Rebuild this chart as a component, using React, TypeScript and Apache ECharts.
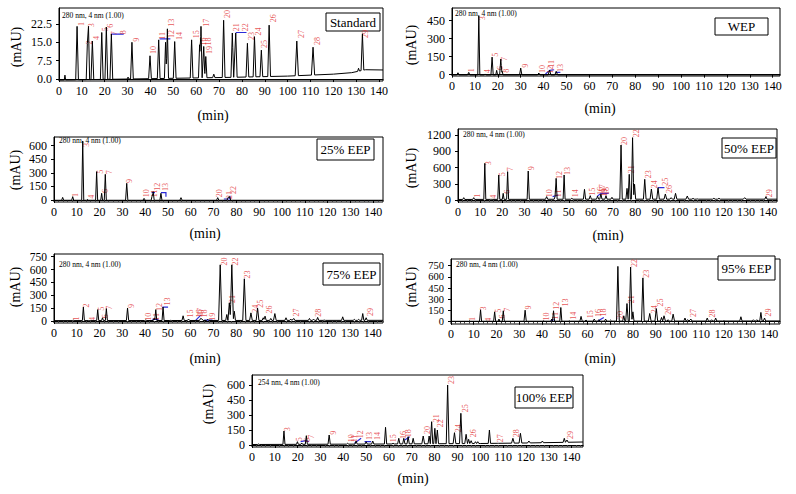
import React, { useEffect, useRef } from "react";
import * as echarts from "echarts";

type Peak = [number, number, number]; // retention time (min), apex (mAU), half width (min)
type Lbl = [number, number, string];
type Pt = [number, number];

const xTicks = [0, 10, 20, 30, 40, 50, 60, 70, 80, 90, 100, 110, 120, 130, 140];

// ---------- Standard ----------
const stdYTicks = [0, 7.5, 15, 22.5];
const stdBase: Pt[] = [[0, -0.4], [30, 0], [76, 0.7], [100, 1.2], [120, 2.0], [128, 2.6], [131, 3.2], [134, 3.8], [141.7, 3.7]];
const stdPeaks: Peak[] = [
  [2.6, 1.6, 0.3], [7.9, 21.5, 0.6], [12.4, 14.5, 0.5], [12.9, 21.5, 0.5], [14.6, 15.5, 0.6], [18.7, 19, 0.6],
  [20.7, 21.2, 0.6], [22.9, 18.4, 0.6], [30.2, 0.8, 0.4], [31.9, 15, 0.6], [39.8, 9.5, 0.6], [43.6, 16, 0.6],
  [46.6, 15, 0.5], [47.4, 20.5, 0.5], [50.6, 15.3, 0.6], [58.0, 16, 0.6], [61.5, 14, 0.5], [62.1, 21.5, 0.5],
  [63.3, 13.3, 0.5], [64.2, 9.2, 0.5], [67.7, 2, 0.5], [72, 24, 0.6], [75.8, 18.8, 0.6], [77.3, 18.8, 0.6],
  [82.4, 14.6, 0.6], [85.5, 17.3, 0.6], [88.5, 11.8, 0.6], [91.9, 22, 0.6], [104, 15.5, 0.7], [111.1, 13, 0.7],
  [131, 4.4, 0.4], [132.7, 18.5, 0.6],
];
const stdLabels: Lbl[] = [
  [9.8, 22.5, "1"], [13.4, 14.9, "2"], [14.3, 22.0, "3"], [16.6, 16.8, "4"], [20.4, 20.3, "5"], [22.5, 21.8, "6"],
  [24.1, 18.7, "7"], [28.3, 19.1, "8"], [33.8, 16.0, "9"], [41.4, 11.9, "10"], [45.1, 17.6, "11"], [49.1, 18.4, "12"],
  [49.1, 23.0, "13"], [52.5, 17.6, "14"], [60.1, 18.3, "15"], [63.0, 15.3, "16"], [64.7, 23.0, "17"], [65.6, 15.3, "18"],
  [65.9, 11.9, "19"], [73.9, 26.6, "20"], [77.6, 21.1, "21"], [81.5, 21.1, "22"], [84.1, 17.6, "23"], [87.1, 19.4, "24"],
  [90.0, 14.3, "25"], [93.6, 24.8, "26"], [106.0, 18.4, "27"], [113.0, 15.5, "28"], [134.2, 18.4, "29"],
];
const stdBlue: Pt[][] = [[[22.9, 18.3], [28.3, 18.3]], [[44, 16.4], [48.7, 16.4]], [[77.3, 19], [82, 19]]];

// ---------- WEP ----------
const wepYTicks = [0, 150, 300, 450];
const wepBase: Pt[] = [[0, -2], [143.2, -2]];
const wepPeaks: Peak[] = [
  [2.6, 16, 0.5], [7.3, 19, 0.5], [11.7, 489, 0.45], [14.5, 6, 0.4], [17.5, 146, 0.5], [19.5, 36, 0.4],
  [21.3, 130, 0.5], [21.9, 28, 0.4], [30, 55, 0.5], [37.9, 14, 0.5], [42.6, 38, 0.6], [45.5, 28, 0.6],
];
const wepLabels: Lbl[] = [
  [8.7, 36, "1"], [13.1, 469, "3"], [15.4, 28, "4"], [19.1, 166, "5"], [21.3, 55, "6"], [23.0, 130, "7"],
  [23.7, 33, "8"], [32.1, 75, "9"], [39.3, 47, "10"], [42.8, 40, "12"], [43.6, 91, "11"], [47.3, 55, "13"],
];
const wepBlue: Pt[][] = [[[40.8, 6], [42.7, 36], [44.6, 41]], [[45.3, 19], [47.3, 19]]];

// ---------- 25% EEP ----------
const e25YTicks = [0, 150, 300, 450, 600];
const e25Base: Pt[] = [[0, -3], [144.3, -3]];
const e25Peaks: Peak[] = [
  [3.8, 29, 0.45], [8.2, 37, 0.45], [12.6, 651, 0.45], [14.7, 8, 0.4], [18.7, 313, 0.45], [20.9, 74, 0.4],
  [22.5, 283, 0.45], [31.9, 184, 0.5], [39.5, 18, 0.5], [43.0, 40, 0.4], [43.5, 92, 0.45], [46.9, 74, 0.45],
  [55.7, 26, 0.5], [71.8, 26, 0.5], [76.4, 30, 0.5], [77.0, 37, 0.5],
];
const e25Labels: Lbl[] = [
  [9.6, 55, "1"], [14.3, 607, "3"], [16.5, 37, "4"], [20.2, 313, "5"], [22.5, 99, "6"], [24.3, 306, "7"],
  [33.3, 210, "9"], [40.6, 74, "10"], [44.0, 74, "11"], [45.4, 147, "12"], [49.0, 144, "13"], [72.8, 74, "20"],
  [76.9, 55, "21"], [78.6, 110, "22"],
];
const e25Blue: Pt[][] = [[[42.8, 81], [44.3, 81]], [[46.9, 81], [49.1, 81], [49.1, 37]], [[74.5, 11], [77.2, 11], [77.2, 48]]];

// ---------- 50% EEP ----------
const e50YTicks = [0, 300, 600, 900, 1200];
const e50Base: Pt[] = [[0, 10], [60, 15], [144, 15]];
const e50Peaks: Peak[] = [
  [2.6, 43, 0.45], [7.1, 43, 0.45], [12.1, 677, 0.45], [15, 12, 0.4], [18.4, 462, 0.45], [20.4, 123, 0.4],
  [22.4, 523, 0.45], [31.7, 535, 0.5], [40, 62, 0.5], [43.8, 60, 0.4], [44.3, 400, 0.45], [47.9, 462, 0.45],
  [51.4, 31, 0.5], [57.1, 197, 0.5], [59.7, 80, 0.5], [63.0, 70, 0.5], [64.5, 110, 0.5], [66.8, 80, 0.5],
  [69.5, 50, 0.5], [73.6, 1015, 0.55], [76.3, 215, 0.5], [77.3, 474, 0.5], [78.8, 1151, 0.55], [79.7, 290, 0.5],
  [84.3, 382, 0.6], [87.3, 203, 0.6], [90.3, 228, 0.6], [93.6, 111, 0.6], [96.2, 43, 0.6], [98.2, 123, 0.6],
  [103.5, 74, 0.6], [106.1, 31, 0.5], [108, 20, 0.5], [115.5, 31, 0.6], [117.8, 31, 0.6], [129.4, 43, 0.6],
  [139, 62, 0.5],
];
const e50Labels: Lbl[] = [
  [8.6, 80, "1"], [13.6, 677, "3"], [16.2, 62, "4"], [19.9, 474, "5"], [22.2, 154, "6"], [23.7, 566, "7"],
  [33.2, 585, "9"], [41.5, 123, "10"], [45.3, 123, "11"], [45.6, 462, "12"], [49.4, 535, "13"], [52.9, 123, "14"],
  [60.9, 154, "15"], [64.5, 166, "16"], [65.4, 215, "17"], [67.2, 166, "18"], [66.3, 140, "19"], [75.1, 1089, "20"],
  [78.5, 566, "21"], [80.5, 1231, "22"], [85.8, 474, "23"], [88.8, 289, "24"], [93.6, 338, "25"], [95.6, 203, "26"],
  [140.5, 123, "29"],
];
const e50Blue: Pt[][] = [[[42.7, 62], [45.3, 92]], [[62.7, 62], [64.5, 123], [68, 123]], [[90.3, 228], [93.2, 228]]];

// ---------- 75% EEP ----------
const e75YTicks = [0, 150, 300, 450, 600, 750];
const e75Base: Pt[] = [[0, 5], [144.5, 8]];
const e75Peaks: Peak[] = [
  [8.4, 11, 0.4], [12.9, 163, 0.45], [15.5, 6, 0.4], [19.2, 133, 0.45], [21.3, 38, 0.4], [23, 144, 0.45],
  [32.3, 152, 0.5], [40.3, 11, 0.5], [44, 30, 0.4], [44.7, 133, 0.45], [47.9, 163, 0.45], [51.3, 8, 0.4],
  [56.7, 61, 0.5], [59.1, 23, 0.5], [64.4, 30, 0.5], [65, 30, 0.5], [67.5, 20, 0.5], [73, 655, 0.7],
  [75.9, 76, 0.5], [77, 212, 0.6], [78.1, 655, 0.7], [79.2, 114, 0.5], [83.6, 492, 0.7], [86.5, 95, 0.6],
  [89.4, 152, 0.6], [91.9, 38, 0.5], [92.7, 57, 0.5], [95.2, 30, 0.5], [97, 87, 0.6], [101.9, 38, 0.5],
  [104, 23, 0.5], [105.3, 30, 0.5], [112.2, 30, 0.5], [114, 23, 0.5], [115.8, 42, 0.5], [118.7, 11, 0.5],
  [126.8, 49, 0.5], [131.9, 19, 0.5], [133.8, 19, 0.5], [135.6, 87, 0.5], [137.1, 38, 0.5],
];
const e75Labels: Lbl[] = [
  [9.8, 30, "1"], [14.2, 182, "2"], [16.9, 23, "4"], [20.7, 144, "5"], [22.7, 57, "6"], [24.2, 155, "7"],
  [33.9, 174, "9"], [41.5, 49, "10"], [45.0, 49, "11"], [46.2, 163, "12"], [49.8, 227, "13"], [60.1, 87, "15"],
  [63.8, 87, "16"], [64.5, 106, "17"], [66.0, 87, "18"], [69.6, 49, "19"], [75.1, 693, "20"], [78.4, 258, "21"],
  [79.9, 693, "22"], [85.0, 542, "23"], [88.3, 144, "24"], [90.9, 201, "25"], [94.6, 133, "26"], [106.3, 98, "27"],
  [116.1, 95, "28"], [139.0, 106, "29"],
];
const e75Blue: Pt[][] = [[[43.2, 19], [45.9, 19]], [[47.6, 163], [50.1, 163]], [[62.3, 11], [64.5, 68]], [[66, 11], [69.6, 11]]];

// ---------- 95% EEP ----------
const e95YTicks = [0, 150, 300, 450, 600, 750];
const e95Base: Pt[] = [[0, 5], [144.7, 10]];
const e95Peaks: Peak[] = [
  [8.2, 13, 0.4], [13, 159, 0.45], [15.5, 9, 0.4], [19.2, 132, 0.45], [21.1, 35, 0.4], [23, 146, 0.45],
  [32.6, 154, 0.5], [40.7, 13, 0.5], [44.3, 35, 0.4], [45.1, 146, 0.45], [48.3, 190, 0.45], [52, 13, 0.4],
  [57.2, 71, 0.5], [59.4, 22, 0.5], [63, 35, 0.5], [65, 26, 0.5], [68, 35, 0.5], [70.2, 22, 0.5],
  [73.4, 741, 0.6], [76, 79, 0.5], [77.4, 243, 0.55], [79, 732, 0.6], [80, 132, 0.5], [84.4, 587, 0.6],
  [87.4, 110, 0.6], [90.3, 176, 0.6], [92.6, 57, 0.5], [93.7, 79, 0.6], [95.5, 26, 0.5], [97.7, 101, 0.6],
  [102.9, 49, 0.5], [104.2, 26, 0.5], [105.5, 35, 0.5], [112.7, 49, 0.5], [114.6, 26, 0.5], [116.4, 49, 0.5],
  [120, 13, 0.5], [127.5, 66, 0.5], [133, 26, 0.5], [134.5, 26, 0.5], [136.3, 124, 0.5], [137.9, 49, 0.5],
];
const e95Labels: Lbl[] = [
  [9.3, 35, "1"], [14.4, 176, "3"], [16.7, 26, "4"], [20.8, 146, "5"], [22.5, 71, "6"], [24.8, 159, "7"],
  [34.2, 190, "9"], [42.1, 71, "10"], [46.1, 79, "11"], [46.6, 212, "12"], [50.3, 256, "13"], [53.9, 79, "14"],
  [61.2, 101, "15"], [64.8, 115, "16"], [67.2, 124, "18"], [74.6, 88, "20"], [79.6, 300, "21"], [80.8, 785, "22"],
  [86.2, 644, "23"], [89.3, 168, "24"], [92.1, 256, "25"], [95.5, 146, "26"], [106.8, 115, "27"], [115.1, 110, "28"],
  [139.7, 124, "29"],
];
const e95Blue: Pt[][] = [[[43.9, 13], [45.4, 26]], [[64.8, 13], [67.2, 57]]];

// ---------- 100% EEP ----------
const e100YTicks = [0, 150, 300, 450, 600];
const e100Base: Pt[] = [[0, 5], [60, 10], [100, 15], [120, 20], [145, 30]];
const e100Peaks: Peak[] = [
  [2.9, 10, 0.4], [14, 140, 0.45], [19.9, 33, 0.4], [21.8, 20, 0.4], [23.8, 93, 0.45], [33.8, 100, 0.5],
  [41.9, 17, 0.5], [45.6, 40, 0.5], [50, 33, 0.5], [52.9, 40, 0.5], [58.5, 177, 0.5], [61.8, 17, 0.5],
  [64.3, 67, 0.5], [66.5, 67, 0.5], [68.4, 83, 0.5], [70.6, 67, 0.5], [75, 90, 0.6], [77.6, 90, 0.5],
  [78.7, 233, 0.5], [80.1, 167, 0.5], [81.2, 150, 0.5], [85.7, 600, 0.6], [88.7, 123, 0.6], [91.5, 317, 0.6],
  [93.8, 107, 0.6], [94.9, 57, 0.5], [96, 43, 0.5], [97.9, 33, 0.5], [98.9, 33, 0.5], [104, 150, 0.5],
  [107.4, 17, 0.5], [114.3, 67, 0.6], [117.6, 117, 0.6], [121.3, 40, 0.6], [127.2, 40, 0.5], [136.8, 67, 0.5],
  [138, 50, 0.5],
];
const e100Labels: Lbl[] = [
  [15.4, 157, "3"], [21.0, 57, "5"], [24.3, 50, "6"], [26.2, 83, "7"], [35.6, 123, "9"], [43.4, 67, "10"],
  [45.1, 67, "11"], [47.4, 107, "12"], [51.5, 90, "13"], [55.1, 90, "14"], [62.1, 67, "15"], [66.2, 100, "16"],
  [68.4, 117, "18"], [76.8, 150, "20"], [80.9, 267, "21"], [82.6, 217, "22"], [87.2, 650, "23"], [90.4, 167, "24"],
  [93.4, 367, "25"], [97.1, 117, "26"], [108.8, 67, "27"], [115.9, 117, "28"], [139.7, 100, "29"],
];
const e100Blue: Pt[][] = [[[21.3, 33], [23.5, 43], [25, 33]], [[44.9, 17], [47.8, 67]], [[49.3, 33], [52.2, 33]], [[66.9, 50], [69.1, 83]]];

// ---------- layout ----------
const FONT = "'Liberation Serif', 'Times New Roman', serif";

interface Panel {
  name: string; nm: string;
  left: number; top: number; width: number; height: number;
  xMax: number; yMin: number; yMax: number; yTicks: number[]; dec: number; minor: boolean; yFont: number;
  peaks: Peak[]; labels: Lbl[]; blue: Pt[][]; base: Pt[];
  box: [number, number, number, number]; nmPos: [number, number];
  minPos: [number, number]; mauPos: [number, number];
}

const panels: Panel[] = [
  { name: "Standard", nm: "280 nm, 4 nm (1.00)", left: 59, top: 8, width: 324, height: 73, xMax: 141.7, yMin: -0.8, yMax: 29, yTicks: stdYTicks, dec: 1, minor: false, yFont: 12,
    peaks: stdPeaks, labels: stdLabels, blue: stdBlue, base: stdBase, box: [326, 13, 54, 18], nmPos: [62, 15], minPos: [213, 115], mauPos: [16, 47] },
  { name: "WEP", nm: "280 nm, 4 nm (1.00)", left: 452, top: 8, width: 328, height: 68, xMax: 143.2, yMin: -11, yMax: 555, yTicks: wepYTicks, dec: 0, minor: false, yFont: 12,
    peaks: wepPeaks, labels: wepLabels, blue: wepBlue, base: wepBase, box: [715, 18, 53, 17], nmPos: [455, 13], minPos: [600, 108], mauPos: [411, 45] },
  { name: "25% EEP", nm: "280 nm, 4 nm (1.00)", left: 54, top: 137, width: 329, height: 65, xMax: 144.3, yMin: -22, yMax: 695, yTicks: e25YTicks, dec: 0, minor: true, yFont: 12,
    peaks: e25Peaks, labels: e25Labels, blue: e25Blue, base: e25Base, box: [317, 139, 57, 21], nmPos: [59, 140], minPos: [205, 233], mauPos: [15, 170] },
  { name: "50% EEP", nm: "280 nm, 4 nm (1.00)", left: 458, top: 129, width: 319, height: 73, xMax: 144, yMin: -37, yMax: 1311, yTicks: e50YTicks, dec: 0, minor: true, yFont: 12,
    peaks: e50Peaks, labels: e50Labels, blue: e50Blue, base: e50Base, box: [722, 138, 54, 20], nmPos: [463, 134], minPos: [608, 235], mauPos: [411, 168] },
  { name: "75% EEP", nm: "280 nm, 4 nm (1.00)", left: 54, top: 254, width: 329, height: 69, xMax: 144.5, yMin: -23, yMax: 781, yTicks: e75YTicks, dec: 0, minor: true, yFont: 11.5,
    peaks: e75Peaks, labels: e75Labels, blue: e75Blue, base: e75Base, box: [323, 263, 57, 22], nmPos: [59, 264], minPos: [205, 358], mauPos: [15, 287] },
  { name: "95% EEP", nm: "280 nm, 4 nm (1.00)", left: 451, top: 259, width: 329, height: 65, xMax: 144.7, yMin: -31, yMax: 840, yTicks: e95YTicks, dec: 0, minor: true, yFont: 10.5,
    peaks: e95Peaks, labels: e95Labels, blue: e95Blue, base: e95Base, box: [718, 256, 57, 24], nmPos: [456, 264], minPos: [600, 358], mauPos: [411, 287] },
  { name: "100% EEP", nm: "254 nm, 4 nm (1.00)", left: 252, top: 375, width: 331, height: 72, xMax: 145, yMin: -20, yMax: 700, yTicks: e100YTicks, dec: 0, minor: true, yFont: 12,
    peaks: e100Peaks, labels: e100Labels, blue: e100Blue, base: e100Base, box: [515, 387, 58, 21], nmPos: [258, 382], minPos: [413, 478], mauPos: [208, 404] },
];

function baseAt(base: Pt[], x: number): number {
  if (x <= base[0][0]) return base[0][1];
  for (let i = 1; i < base.length; i++) {
    if (x <= base[i][0]) {
      const [x0, y0] = base[i - 1];
      const [x1, y1] = base[i];
      return y0 + ((y1 - y0) * (x - x0)) / (x1 - x0);
    }
  }
  return base[base.length - 1][1];
}

function buildTrace(p: Panel): Pt[] {
  const xs = new Set<number>();
  p.base.forEach((b) => xs.add(b[0]));
  xs.add(0);
  xs.add(p.xMax);
  p.peaks.forEach(([t, , w]) => { xs.add(t - w); xs.add(t); xs.add(t + w); });
  const sorted = Array.from(xs).filter((x) => x >= 0 && x <= p.xMax).sort((a, b) => a - b);
  return sorted.map((x) => {
    let v = baseAt(p.base, x);
    for (const [t, h, w] of p.peaks) {
      const d = Math.abs(x - t);
      if (d < w) v += (h - baseAt(p.base, t)) * (1 - d / w);
    }
    return [x, v] as Pt;
  });
}

export default function App() {
  const ref = useRef<HTMLDivElement>(null);
  useEffect(() => {
    if (!ref.current) return;
    const chart = echarts.init(ref.current, undefined, { renderer: "svg" });
    const grid: any[] = [];
    const xAxis: any[] = [];
    const yAxis: any[] = [];
    const series: any[] = [];
    const graphic: any[] = [];
    panels.forEach((p, i) => {
      grid.push({ left: p.left, top: p.top, width: p.width, height: p.height, show: true, borderColor: "#000", borderWidth: 1, backgroundColor: "transparent" });
      xAxis.push({
        gridIndex: i, type: "value", min: 0, max: p.xMax, interval: 10, position: "bottom",
        axisLine: { show: true, lineStyle: { color: "#000", width: 1 } },
        axisTick: { show: true, customValues: xTicks, length: 3, lineStyle: { color: "#000" } },
        minorTick: { show: p.minor, splitNumber: 5, length: 2, lineStyle: { color: "#444" } },
        axisLabel: { customValues: xTicks, color: "#000", fontFamily: FONT, fontSize: 12, margin: 4, showMinLabel: true, showMaxLabel: true },
        splitLine: { show: false },
      });
      yAxis.push({
        gridIndex: i, type: "value", min: p.yMin, max: p.yMax,
        axisLine: { show: true, lineStyle: { color: "#000", width: 1 } },
        axisTick: { show: true, customValues: p.yTicks, length: 3, lineStyle: { color: "#000" } },
        axisLabel: { customValues: p.yTicks, color: "#000", fontFamily: FONT, fontSize: p.yFont, margin: 7, lineHeight: p.yFont,
          showMinLabel: true, showMaxLabel: true, formatter: (v: number) => v.toFixed(p.dec) },
        splitLine: { show: false },
      });
      series.push({
        type: "line", xAxisIndex: i, yAxisIndex: i, data: buildTrace(p), symbol: "none", silent: true,
        lineStyle: { color: "#000", width: 1 }, clip: true,
      });
      series.push({
        type: "lines", coordinateSystem: "cartesian2d", xAxisIndex: i, yAxisIndex: i, polyline: true, silent: true,
        data: p.blue.map((s) => ({ coords: s })), lineStyle: { color: "#2a2ad8", width: 1.2, opacity: 1 },
      });
      series.push({
        type: "scatter", xAxisIndex: i, yAxisIndex: i, symbolSize: 1, silent: true,
        itemStyle: { color: "rgba(0,0,0,0)" },
        data: p.labels.map((l) => [l[0], l[1], l[2]]),
        label: {
          show: true, position: "inside", rotate: 90, align: "center", verticalAlign: "middle",
          formatter: (q: any) => q.data[2], color: "#e0282a", fontFamily: FONT, fontSize: 8,
        },
      });
      graphic.push({ type: "text", x: p.nmPos[0], y: p.nmPos[1], style: { text: p.nm, fill: "#000", font: `7.5px ${FONT}`, align: "left", verticalAlign: "middle" } });
      graphic.push({ type: "rect", shape: { x: p.box[0], y: p.box[1], width: p.box[2], height: p.box[3] }, style: { fill: "#fff", stroke: "#000", lineWidth: 1 } });
      graphic.push({ type: "text", x: p.box[0] + p.box[2] / 2, y: p.box[1] + p.box[3] / 2, style: { text: p.name, fill: "#000", font: `13px ${FONT}`, align: "center", verticalAlign: "middle" } });
      graphic.push({ type: "text", x: p.minPos[0], y: p.minPos[1], style: { text: "(min)", fill: "#000", font: `14px ${FONT}`, align: "center", verticalAlign: "middle" } });
      graphic.push({ type: "text", x: p.mauPos[0], y: p.mauPos[1], rotation: Math.PI / 2, style: { text: "(mAU)", fill: "#000", font: `14px ${FONT}`, align: "center", verticalAlign: "middle" } });
    });
    chart.setOption({ animation: false, backgroundColor: "#fff", grid, xAxis, yAxis, series, graphic });
    return () => chart.dispose();
  }, []);
  return <div ref={ref} style={{ position: "fixed", left: 0, top: 0, width: 796, height: 494 }} />;
}
